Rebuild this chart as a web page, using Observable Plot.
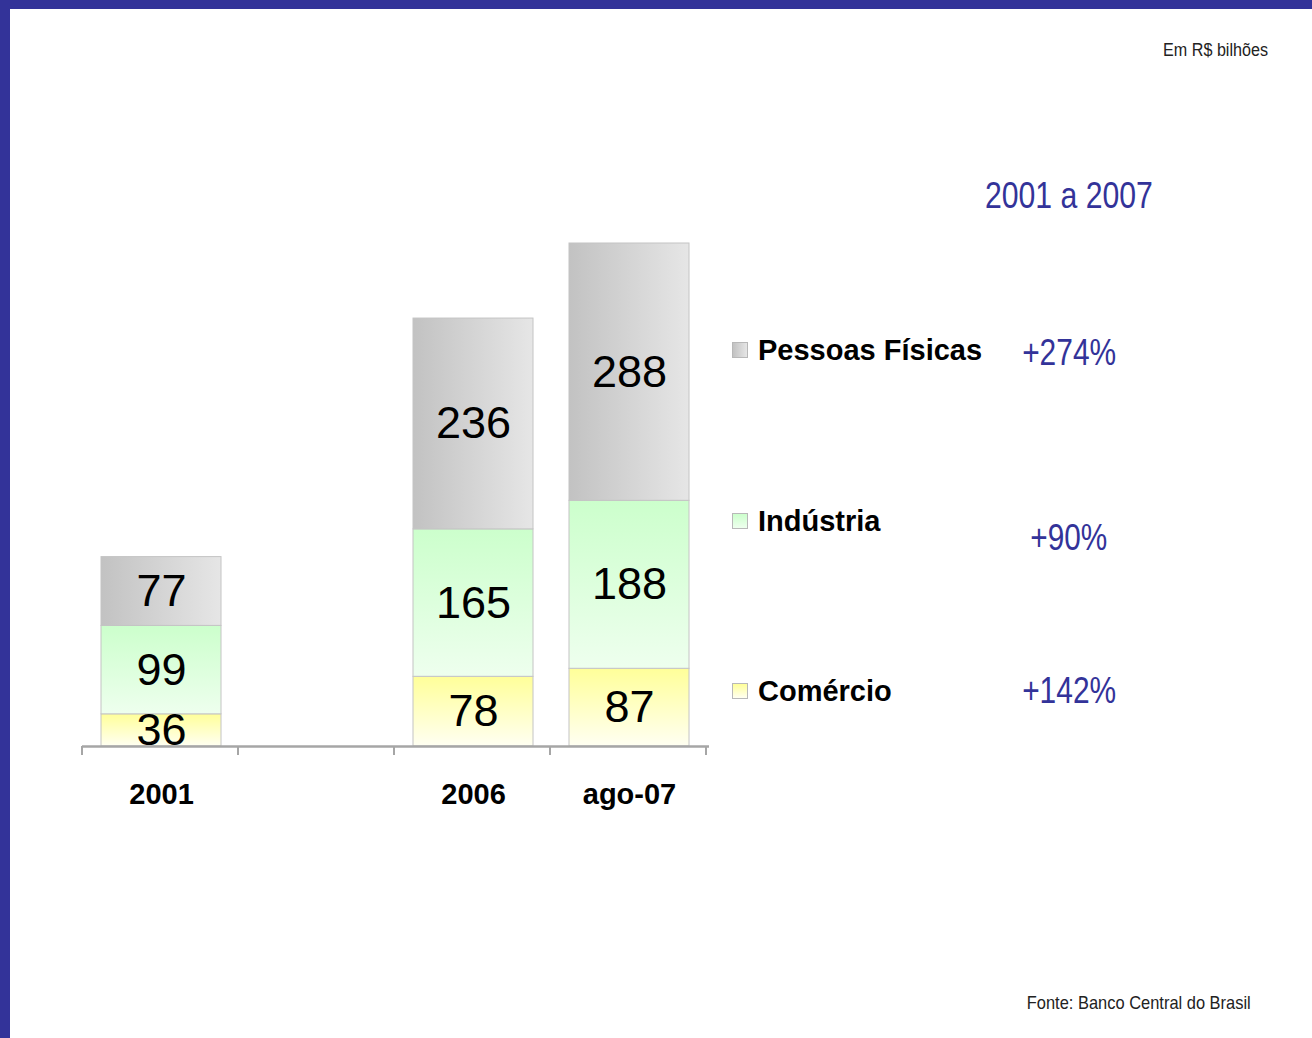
<!DOCTYPE html>
<html>
<head>
<meta charset="utf-8">
<script src="https://cdn.jsdelivr.net/npm/d3@7"></script>
<script src="https://cdn.jsdelivr.net/npm/@observablehq/plot@0.6"></script>
<style>
  html, body { margin: 0; padding: 0; background: #fff; }
  #page { position: relative; width: 1312px; height: 1038px; overflow: hidden; background: #fff; font-family: "Liberation Sans", Arial, sans-serif; }
  .bar-top { position: absolute; left: 0; top: 0; width: 1312px; height: 9px; background: #333399; z-index: 5; }
  .bar-left { position: absolute; left: 0; top: 0; width: 10px; height: 1038px; background: #333399; z-index: 5; }
  .abs { position: absolute; white-space: nowrap; line-height: 1; }
  #chart { position: absolute; left: 0; top: 0; }
  .sw { position: absolute; width: 16px; height: 16px; border: 1px solid #b8b8b8; box-sizing: border-box; }
</style>
</head>
<body>
<div id="page">
  <div class="bar-top"></div>
  <div class="bar-left"></div>
  <div id="chart"></div>
</div>
<script>
// ---- data ----
const categories = ["2001", "", "2006", "ago-07"];
const series = ["Comércio", "Indústria", "Pessoas Físicas"];
const comercio = [36, null, 78, 87];
const industria = [99, null, 165, 188];
const pessoas = [77, null, 236, 288];
const growth = ["+142%", "+90%", "+274%"];
const unitLabel = "Em R$ bilhões";
const periodLabel = "2001 a 2007";
const sourceLabel = "Fonte: Banco Central do Brasil";

// long table for the library
const table = [];
categories.forEach((c, i) => {
  [comercio, industria, pessoas].forEach((arr, s) => {
    if (arr[i] != null) table.push({cat: c, series: series[s], value: arr[i]});
  });
});

const gradIds = ["g-com", "g-ind", "g-pes"];

const plot = Plot.plot({
  width: 1312,
  height: 820,
  marginLeft: 82,
  marginRight: 603,
  marginTop: 243,
  marginBottom: 74,
  style: {background: "transparent", fontFamily: "'Liberation Sans', Arial, sans-serif"},
  x: {domain: categories, paddingInner: 0.23, paddingOuter: 0.115, label: null},
  y: {domain: [0, d3.max(categories.map((c, i) => (comercio[i] || 0) + (industria[i] || 0) + (pessoas[i] || 0)))], axis: null},
  color: {domain: series, range: gradIds.map(id => `url(#${id})`)},
  marks: [
    Plot.barY(table, Plot.stackY({x: "cat", y: "value", fill: "series", stroke: "#c4c4c4", strokeWidth: 1})),
    Plot.text(table, Plot.stackY({x: "cat", y: "value", text: d => String(d.value), fontSize: 45, fill: "#000"})),
    Plot.ruleY([0], {stroke: "#a6a6a6", strokeWidth: 2.5}),
    Plot.axisX({tickSize: 0, tickPadding: 37, fontSize: 29, fontWeight: "bold", fill: "#000"})
  ]
});

// gradients
const svg = d3.select(plot);
const defs = svg.insert("defs", ":first-child");
function grad(id, horiz, c1, c2) {
  const g = defs.append("linearGradient").attr("id", id)
    .attr("x1", 0).attr("y1", 0).attr("x2", horiz ? 1 : 0).attr("y2", horiz ? 0 : 1);
  g.append("stop").attr("offset", "0%").attr("stop-color", c1);
  g.append("stop").attr("offset", "100%").attr("stop-color", c2);
}
grad("g-com", false, "#ffff99", "#fffff2");
grad("g-ind", false, "#ccffcc", "#eeffee");
grad("g-pes", true, "#c2c2c2", "#e6e6e6");

// ticks at band boundaries, from the library's x scale
const xs = plot.scale("x");
const y0 = plot.scale("y").apply(0);
const n = categories.length;
const ticks = d3.range(n + 1).map(i => xs.range[0] + i * xs.step);
svg.append("g").selectAll("line").data(ticks).join("line")
  .attr("x1", d => d).attr("x2", d => d)
  .attr("y1", y0).attr("y2", y0 + 9)
  .attr("stroke", "#a6a6a6").attr("stroke-width", 2);

document.getElementById("chart").appendChild(plot);

// ---- HTML annotations ----
const page = document.getElementById("page");
// narrow text: Liberation Sans compressed horizontally to a target width
function addNarrow(txt, opts) {
  const d = document.createElement("div");
  d.className = "abs";
  d.textContent = txt;
  d.style.fontSize = opts.size + "px";
  d.style.color = opts.color;
  d.style.top = opts.y + "px";
  page.appendChild(d);
  const w = d.getBoundingClientRect().width;
  const k = opts.w / w;
  if (opts.anchor === "middle") {
    d.style.left = (opts.x - w / 2) + "px";
    d.style.transformOrigin = "50% 50%";
  } else {
    d.style.left = (opts.x - w) + "px";
    d.style.transformOrigin = "100% 50%";
  }
  d.style.transform = `translateY(-50%) scaleX(${k})`;
  return d;
}
function addText(txt, css) {
  const d = document.createElement("div");
  d.className = "abs";
  d.textContent = txt;
  Object.assign(d.style, css);
  page.appendChild(d);
  return d;
}
addNarrow(unitLabel, {x: 1268, y: 50, w: 105, size: 18, color: "#222", anchor: "end"});
addNarrow(periodLabel, {x: 1069, y: 195, w: 168, size: 37, color: "#333399", anchor: "middle"});
addNarrow(sourceLabel, {x: 1251, y: 1002, w: 224, size: 19, color: "#222", anchor: "end"});

// legend (top to bottom: Pessoas, Indústria, Comércio)
const legendY = [350, 521, 691];
const pctY = [352, 537, 690];
const pctW = [94, 77, 94];
const swatchCss = [
  "linear-gradient(to right, #c2c2c2, #e6e6e6)",
  "linear-gradient(to bottom, #ccffcc, #eeffee)",
  "linear-gradient(to bottom, #ffff99, #fffff2)"
];
[2, 1, 0].forEach((s, k) => {
  const sw = document.createElement("div");
  sw.className = "sw";
  sw.style.left = "732px";
  sw.style.top = (legendY[k] - 8) + "px";
  sw.style.background = swatchCss[k];
  page.appendChild(sw);
  addText(series[s], {left: "758px", top: legendY[k] + "px", transform: "translateY(-50%)", fontSize: "29px", fontWeight: "bold", color: "#000"});
  addNarrow(growth[s], {x: 1069, y: pctY[k], w: pctW[k], size: 37, color: "#333399", anchor: "middle"});
});
</script>
</body>
</html>
